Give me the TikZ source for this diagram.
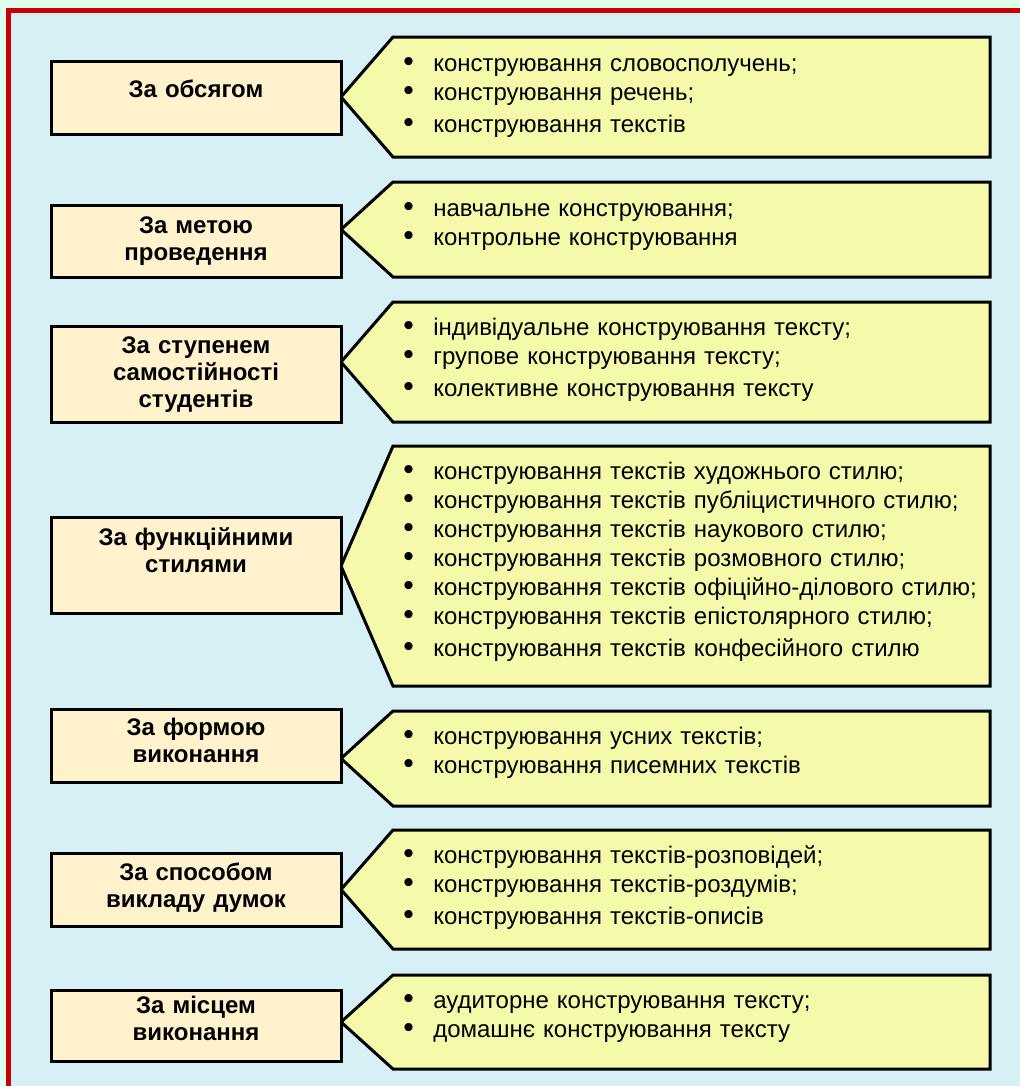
\documentclass[tikz,border=0pt]{standalone}
\usepackage{fontspec}
\usepackage{graphicx}
\setmainfont{Liberation Sans}
\definecolor{outerbg}{HTML}{DDFFEE}
\definecolor{innerbg}{HTML}{D6F0F5}
\definecolor{framered}{HTML}{CC0000}
\definecolor{cream}{HTML}{FFF2CC}
\definecolor{lemon}{HTML}{F5FAAA}
\newcommand\bul{\makebox[22.5pt][l]{\raisebox{-0.6pt}{\scalebox{1.25}{•}}}}
\begin{document}
\begin{tikzpicture}[x=0.75pt,y=-0.75pt,
  lbox/.style={draw=black, fill=cream, line width=2.25pt, inner sep=0pt, minimum width=217.5pt},
  ltext/.style={text width=210pt, align=center, anchor=base, inner sep=0pt, font=\bfseries\fontsize{18pt}{20.6pt}\selectfont},
  rshape/.style={draw=black, fill=lemon, line width=2.25pt, line join=miter},
  rtext/.style={text width=450pt, align=left, anchor=base west, inner sep=0pt, font=\fontsize{18pt}{21.75pt}\selectfont}
]
\useasboundingbox (0,0) rectangle (1020,1086);
\begin{scope}
\clip (0,0) rectangle (1020,1086);
\fill[outerbg] (0,0) rectangle (1020,1086);
\fill[innerbg] (8.5,10.5) rectangle (1040,1100);
\draw[framered, line width=3.75pt] (8.5,10.5) rectangle (1040,1100);
\end{scope}

% right arrow shapes
\draw[rshape] (341,97) -- (393,37) -- (990,37) -- (990,157) -- (393,157) -- cycle;
\draw[rshape] (341,229.5) -- (393,182) -- (990,182) -- (990,277) -- (393,277) -- cycle;
\draw[rshape] (341,362) -- (393,302) -- (990,302) -- (990,422) -- (393,422) -- cycle;
\draw[rshape] (341,566) -- (393,446) -- (990,446) -- (990,686) -- (393,686) -- cycle;
\draw[rshape] (341,758.5) -- (393,711) -- (990,711) -- (990,806) -- (393,806) -- cycle;
\draw[rshape] (341,889.5) -- (393,830) -- (990,830) -- (990,949) -- (393,949) -- cycle;
\draw[rshape] (341,1022) -- (393,975) -- (990,975) -- (990,1069) -- (393,1069) -- cycle;

% left boxes
\node[lbox, minimum height=54.75pt] (b1) at (196,97.5) {};
\node[lbox, minimum height=54pt] (b2) at (196,241) {};
\node[lbox, minimum height=72pt] (b3) at (196,374) {};
\node[lbox, minimum height=72pt] (b4) at (196,565) {};
\node[lbox, minimum height=54.75pt] (b5) at (196,745.5) {};
\node[lbox, minimum height=54.75pt] (b6) at (196,889.5) {};
\node[lbox, minimum height=53.25pt] (b7) at (196,1025.5) {};

\node[ltext] (t1) at (196,97) {За обсягом};
\node[ltext] (t2) at (196,233) {За метою\\проведення};
\node[ltext] (t3) at (196,353) {За ступенем\\самостійності\\студентів};
\node[ltext] (t4) at (196,545) {За функційними\\стилями};
\node[ltext] (t5) at (196,735) {За формою\\виконання};
\node[ltext] (t6) at (196,880) {За способом\\викладу думок};
\node[ltext] (t7) at (196,1013) {За місцем\\виконання};

% lists
\node[rtext] (l1) at (403,71) {\bul конструювання словосполучень;\\
\bul конструювання речень;\\[2.25pt]
\bul конструювання текстів};
\node[rtext] (l2) at (403,216) {\bul навчальне конструювання;\\
\bul контрольне конструювання};
\node[rtext] (l3) at (403,335) {\bul індивідуальне конструювання тексту;\\
\bul групове конструювання тексту;\\[2.25pt]
\bul колективне конструювання тексту};
\node[rtext] (l4) at (403,479) {\bul конструювання текстів художнього стилю;\\
\bul конструювання текстів публіцистичного стилю;\\
\bul конструювання текстів наукового стилю;\\
\bul конструювання текстів розмовного стилю;\\
\bul конструювання текстів офіційно-ділового стилю;\\
\bul конструювання текстів епістолярного стилю;\\[2.25pt]
\bul конструювання текстів конфесійного стилю};
\node[rtext] (l5) at (403,744) {\bul конструювання усних текстів;\\
\bul конструювання писемних текстів};
\node[rtext] (l6) at (403,863) {\bul конструювання текстів-розповідей;\\
\bul конструювання текстів-роздумів;\\[2.25pt]
\bul конструювання текстів-описів};
\node[rtext] (l7) at (403,1008) {\bul аудиторне конструювання тексту;\\
\bul домашнє конструювання тексту};
\end{tikzpicture}
\end{document}
